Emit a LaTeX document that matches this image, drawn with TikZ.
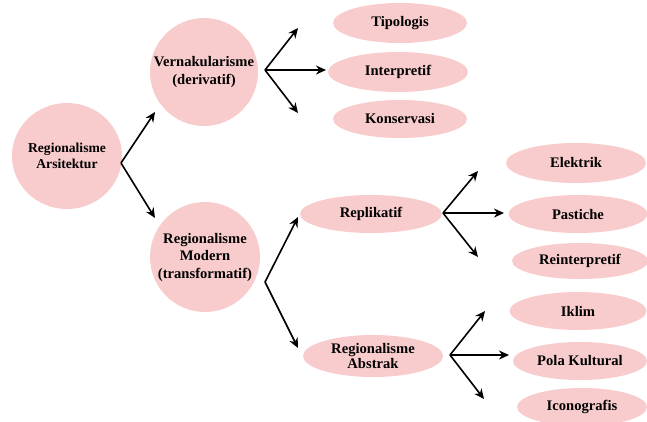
\documentclass[tikz,border=0pt]{standalone}
\usepackage{fontspec}
\setmainfont{Liberation Serif}
\usetikzlibrary{shapes.geometric,arrows.meta}
\definecolor{petal}{RGB}{248,204,204}
\begin{document}
\begin{tikzpicture}[x=1pt,y=-1pt,
  caption/.style={align=center,inner sep=0pt,
    font=\fontsize{14.6}{17.5}\selectfont\bfseries},
  bubble/.style 2 args={ellipse,fill=petal,draw=none,inner sep=0pt,
    minimum width=#1,minimum height=#2},
  link/.style={line width=1.6pt,-{Stealth[length=10pt,width=9pt]}}]
\useasboundingbox (0,0) rectangle (647,421);

% circles
\node[bubble={110pt}{106pt},
  label={[caption,font=\fontsize{13.6}{16}\selectfont\bfseries]center:Regionalisme\\Arsitektur}]
  (root) at (67,156) {};
\node[bubble={108pt}{108pt},label={[caption]center:Vernakularisme\\(derivatif)}]
  (vern) at (204,72) {};
\node[bubble={110pt}{110pt},label={[caption]center:Regionalisme\\Modern\\(transformatif)}]
  (modern) at (205,257) {};

% second level ellipses
\node[bubble={134pt}{40pt},label={[caption]center:Tipologis}] (tip) at (400,23) {};
\node[bubble={140pt}{40pt},label={[caption]center:Interpretif}] (intp) at (398,72) {};
\node[bubble={134pt}{38pt},label={[caption]center:Konservasi}] (kons) at (400,119) {};
\node[bubble={142pt}{38pt},label={[caption]center:Replikatif}] (repl) at (371,214) {};
\node[bubble={140pt}{42pt},
  label={[caption,font=\fontsize{14.6}{15.5}\selectfont\bfseries]center:Regionalisme\\Abstrak}]
  (abst) at (373,356) {};

% third level ellipses
\node[bubble={140pt}{40pt},label={[caption]center:Elektrik}] (elek) at (576,163) {};
\node[bubble={139pt}{38pt},label={[caption]center:Pastiche}] (past) at (578,214) {};
\node[bubble={136pt}{36pt},label={[caption]center:Reinterpretif}] (rein) at (580,261) {};
\node[bubble={137pt}{38pt},label={[caption]center:Iklim}] (ikl) at (578,311) {};
\node[bubble={134pt}{38pt},label={[caption]center:Pola Kultural}] (pola) at (580,361) {};
\node[bubble={130pt}{38pt},label={[caption]center:Iconografis}] (icon) at (582,407) {};

% fork points and arrow ends
\coordinate (f0) at (121,163);
\coordinate (t0a) at (155,112);
\coordinate (t0b) at (155,218);

\coordinate (f1) at (265,70);
\coordinate (t1a) at (298,28);
\coordinate (t1b) at (326,70);
\coordinate (t1c) at (298,113);

\coordinate (f2) at (265,282);
\coordinate (t2a) at (298,217);
\coordinate (t2b) at (298,348);

\coordinate (f3) at (443,213);
\coordinate (t3a) at (478,171);
\coordinate (t3b) at (504,213);
\coordinate (t3c) at (478,257);

\coordinate (f4) at (450,355);
\coordinate (t4a) at (485,311);
\coordinate (t4b) at (509,355);
\coordinate (t4c) at (484,399);

% connectors
\draw[link] (f0) -- (t0a);
\draw[link] (f0) -- (t0b);
\draw[link] (f1) -- (t1a);
\draw[link] (f1) -- (t1b);
\draw[link] (f1) -- (t1c);
\draw[link] (f2) -- (t2a);
\draw[link] (f2) -- (t2b);
\draw[link] (f3) -- (t3a);
\draw[link] (f3) -- (t3b);
\draw[link] (f3) -- (t3c);
\draw[link] (f4) -- (t4a);
\draw[link] (f4) -- (t4b);
\draw[link] (f4) -- (t4c);
\end{tikzpicture}
\end{document}
